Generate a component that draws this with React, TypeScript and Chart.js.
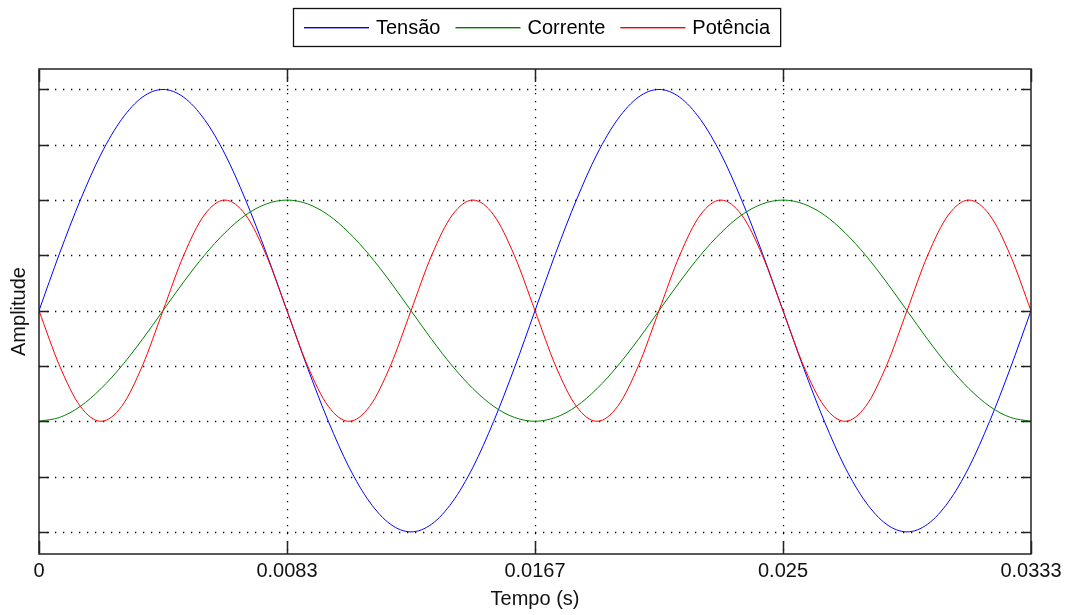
import React, { useEffect, useRef } from "react";
import { Chart, registerables } from "chart.js";

Chart.register(...registerables);

// Time samples (s)
const timeValues = [
  0, 0.000694, 0.001389, 0.002083, 0.002778, 0.003472, 0.004167, 0.004861, 0.005556, 0.00625,
  0.006944, 0.007639, 0.008333, 0.009028, 0.009722, 0.010417, 0.011111, 0.011806, 0.0125, 0.013194,
  0.013889, 0.014583, 0.015278, 0.015972, 0.016667, 0.017361, 0.018056, 0.01875, 0.019444, 0.020139,
  0.020833, 0.021528, 0.022222, 0.022917, 0.023611, 0.024306, 0.025, 0.025694, 0.026389, 0.027083,
  0.027778, 0.028472, 0.029167, 0.029861, 0.030556, 0.03125, 0.031944, 0.032639, 0.033333,
];

const tensao = [
  0, 1.04, 2, 2.83, 3.46, 3.86, 4, 3.86, 3.46, 2.83, 2, 1.04, 0, -1.04, -2, -2.83, -3.46, -3.86, -4,
  -3.86, -3.46, -2.83, -2, -1.04, 0,
  1.04, 2, 2.83, 3.46, 3.86, 4, 3.86, 3.46, 2.83, 2, 1.04, 0, -1.04, -2, -2.83, -3.46, -3.86, -4,
  -3.86, -3.46, -2.83, -2, -1.04, 0,
];

const corrente = [
  -2, -1.93, -1.73, -1.41, -1, -0.52, 0, 0.52, 1, 1.41, 1.73, 1.93, 2, 1.93, 1.73, 1.41, 1, 0.52, 0,
  -0.52, -1, -1.41, -1.73, -1.93, -2,
  -1.93, -1.73, -1.41, -1, -0.52, 0, 0.52, 1, 1.41, 1.73, 1.93, 2, 1.93, 1.73, 1.41, 1, 0.52, 0,
  -0.52, -1, -1.41, -1.73, -1.93, -2,
];

const potencia = [
  0, -1, -1.73, -2, -1.73, -1, 0, 1, 1.73, 2, 1.73, 1, 0,
  -1, -1.73, -2, -1.73, -1, 0, 1, 1.73, 2, 1.73, 1, 0,
  -1, -1.73, -2, -1.73, -1, 0, 1, 1.73, 2, 1.73, 1, 0,
  -1, -1.73, -2, -1.73, -1, 0, 1, 1.73, 2, 1.73, 1, 0,
];

const seriesLabels = ["Tensão", "Corrente", "Potência"];
const seriesColors = ["#0000ff", "#008000", "#ff0000"];

const xTickValues = [0, 0.008333, 0.016667, 0.025, 0.033333];
const xTickLabels = ["0", "0.0083", "0.0167", "0.025", "0.0333"];
const yTickValues = [-4, -3, -2, -1, 0, 1, 2, 3, 4];
const yMin = -4.4;
const yMax = 4.37;

const FONT = "'Liberation Sans', Arial, Helvetica, sans-serif";

const toPoints = (ys: number[]) => ys.map((y, i) => ({ x: timeValues[i], y }));

const matlabFrame = {
  id: "matlabFrame",
  beforeDatasetsDraw(chart: any) {
    const { ctx, chartArea, scales } = chart;
    const { left, right, top, bottom } = chartArea;
    ctx.save();
    ctx.strokeStyle = "#000";
    ctx.lineWidth = 1.3;
    ctx.setLineDash([1.3, 6.7]);
    yTickValues.forEach((v) => {
      const py = Math.round(scales.y.getPixelForValue(v)) + 0.5;
      ctx.beginPath();
      ctx.moveTo(left, py);
      ctx.lineTo(right, py);
      ctx.stroke();
    });
    xTickValues.slice(1, -1).forEach((v) => {
      const px = Math.round(scales.x.getPixelForValue(v)) + 0.5;
      ctx.beginPath();
      ctx.moveTo(px, top);
      ctx.lineTo(px, bottom);
      ctx.stroke();
    });
    ctx.restore();
  },
  afterDatasetsDraw(chart: any) {
    const { ctx, chartArea, scales } = chart;
    const { left, right, top, bottom } = chartArea;
    ctx.save();
    ctx.strokeStyle = "#222";
    ctx.lineWidth = 1.5;
    ctx.setLineDash([]);
    ctx.strokeRect(left, top, right - left, bottom - top);
    yTickValues.forEach((v) => {
      const py = Math.round(scales.y.getPixelForValue(v)) + 0.5;
      ctx.beginPath();
      ctx.moveTo(left, py);
      ctx.lineTo(left + 10, py);
      ctx.moveTo(right, py);
      ctx.lineTo(right - 10, py);
      ctx.stroke();
    });
    xTickValues.forEach((v) => {
      const px = Math.round(scales.x.getPixelForValue(v)) + 0.5;
      ctx.beginPath();
      ctx.moveTo(px, bottom);
      ctx.lineTo(px, bottom - 13);
      ctx.moveTo(px, top);
      ctx.lineTo(px, top + 13);
      ctx.stroke();
    });
    ctx.restore();
  },
  afterDraw(chart: any) {
    const { ctx } = chart;
    ctx.save();
    ctx.setLineDash([]);
    ctx.font = `20px ${FONT}`;
    const labels = seriesLabels;
    const lineLen = 65;
    const gapLT = 7;
    const gapItem = 15;
    const padL = 11;
    const padR = 10;
    const widths = labels.map((l) => ctx.measureText(l).width);
    let total = padL + padR + gapItem * (labels.length - 1);
    widths.forEach((w: number) => (total += lineLen + gapLT + w));
    const cx = 536.5;
    const boxL = Math.round(cx - total / 2);
    const boxT = 8;
    const boxH = 38;
    ctx.fillStyle = "#fff";
    ctx.fillRect(boxL, boxT, total, boxH);
    ctx.strokeStyle = "#111";
    ctx.lineWidth = 1.3;
    ctx.strokeRect(boxL + 0.5, boxT + 0.5, total, boxH);
    let x = boxL + padL;
    labels.forEach((label, i) => {
      ctx.fillStyle = seriesColors[i];
      ctx.fillRect(x, 27, lineLen, 1.4);
      x += lineLen + gapLT;
      ctx.fillStyle = "#000";
      ctx.textBaseline = "middle";
      ctx.textAlign = "left";
      ctx.fillText(label, x, 28);
      x += widths[i] + gapItem;
    });
    ctx.restore();
  },
};

export default function App() {
  const canvasRef = useRef<HTMLCanvasElement>(null);

  useEffect(() => {
    if (!canvasRef.current) return;
    const seriesData = [tensao, corrente, potencia];
    const chart = new Chart(canvasRef.current, {
      type: "line",
      data: {
        datasets: seriesData.map((s, i) => ({
          label: seriesLabels[i],
          data: toPoints(s),
          borderColor: seriesColors[i],
          backgroundColor: seriesColors[i],
          borderWidth: 1,
          pointRadius: 0,
          fill: false,
          cubicInterpolationMode: "monotone" as const,
          order: 3 - i,
        })),
      },
      options: {
        responsive: false,
        devicePixelRatio: 1,
        animation: false,
        layout: { padding: { top: 69, right: 37, left: 0, bottom: 0 } },
        plugins: {
          legend: { display: false },
          tooltip: { enabled: false },
        },
        scales: {
          x: {
            type: "linear",
            min: 0,
            max: timeValues[timeValues.length - 1],
            afterBuildTicks: (s: any) => {
              s.ticks = xTickValues.map((v) => ({ value: v }));
            },
            afterFit: (s: any) => {
              s.height = 61;
            },
            ticks: {
              callback: (_v: any, i: number) => xTickLabels[i],
              font: { family: FONT, size: 20 },
              color: "#111",
              padding: 5,
              maxRotation: 0,
              autoSkip: false,
            },
            grid: { display: false, drawTicks: false },
            border: { display: false },
            title: {
              display: true,
              text: "Tempo (s)",
              font: { family: FONT, size: 20 },
              color: "#111",
              padding: { top: 0, bottom: 4 },
            },
          },
          y: {
            type: "linear",
            min: yMin,
            max: yMax,
            afterFit: (s: any) => {
              s.width = 39;
            },
            ticks: { display: false },
            grid: { display: false, drawTicks: false },
            border: { display: false },
            title: {
              display: true,
              text: "Amplitude",
              font: { family: FONT, size: 20 },
              color: "#111",
              padding: { top: 7, bottom: 0 },
            },
          },
        },
      },
      plugins: [matlabFrame],
    });
    return () => chart.destroy();
  }, []);

  return (
    <div style={{ position: "fixed", left: 0, top: 0, width: 1068, height: 615, background: "#fff" }}>
      <canvas ref={canvasRef} width={1068} height={615} style={{ display: "block" }} />
    </div>
  );
}
